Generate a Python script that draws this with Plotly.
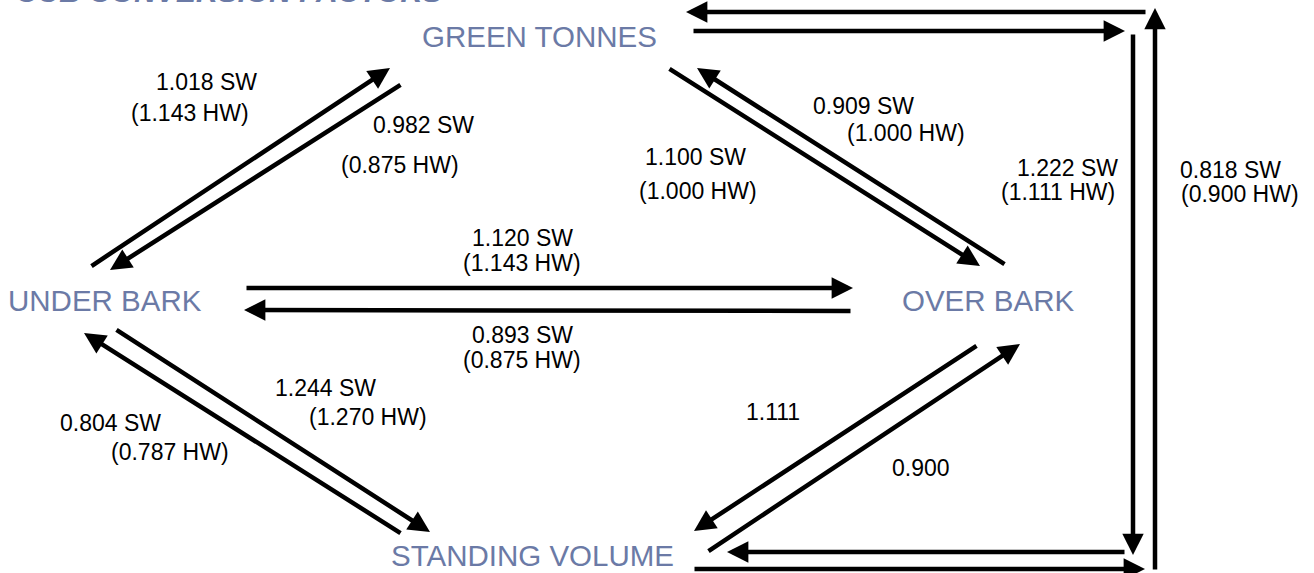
import plotly.graph_objects as go

W, H = 1314, 573

# Diagram nodes
node_names = ["GREEN TONNES", "UNDER BARK", "OVER BARK", "STANDING VOLUME"]
node_x = [539, 105, 988, 532]
node_y = [36, 300, 300, 555]

# Arrows: tail (x0, y0) -> tip (x1, y1)
arrow_x0 = [90, 402, 668, 1006, 245, 852, 115, 402, 978, 707, 692, 1133, 1126, 693, 1155, 1147]
arrow_y0 = [267, 84, 68, 265, 288, 311, 329, 534, 345, 552, 31, 33, 552, 569, 571, 12]
arrow_x1 = [390, 110, 980, 697, 853, 244, 430, 84, 694, 1020, 1125, 1133, 727, 1145, 1155, 686]
arrow_y1 = [68, 270, 266, 68, 288, 310, 532, 333, 531, 344, 31, 555, 552, 569, 8, 12]

# Conversion factor labels
label_text = [
    "1.018 SW", "(1.143 HW)", "0.982 SW", "(0.875 HW)",
    "0.909 SW", "(1.000 HW)", "1.100 SW", "(1.000 HW)",
    "1.120 SW", "(1.143 HW)", "0.893 SW", "(0.875 HW)",
    "1.244 SW", "(1.270 HW)", "0.804 SW", "(0.787 HW)",
    "1.111", "0.900",
    "1.222 SW", "(1.111 HW)", "0.818 SW", "(0.900 HW)",
]
label_x = [206, 190, 423, 400, 863, 906, 695, 698, 522, 522, 522, 522,
           325, 368, 110, 170, 773, 921, 1067, 1058, 1230, 1240]
label_y = [82, 113, 125, 165, 106, 133, 157, 191, 238, 263, 335, 360,
           388, 417, 423, 452, 412, 468, 168, 192, 170, 194]

title_text = "CUB CONVERSION FACTORS"

NODE_COLOR = "#6b7aa6"
FONT = "Liberation Sans, Arial, sans-serif"

fig = go.Figure()
fig.add_trace(go.Scatter(x=[0, W], y=[0, H], mode="markers",
                         marker=dict(opacity=0), hoverinfo="skip", showlegend=False))

annotations = []
for name, x, y in zip(node_names, node_x, node_y):
    annotations.append(dict(x=x, y=y, xref="x", yref="y", text=name, showarrow=False,
                            font=dict(family=FONT, size=29.5, color=NODE_COLOR),
                            xanchor="center", yanchor="middle"))

for x0, y0, x1, y1 in zip(arrow_x0, arrow_y0, arrow_x1, arrow_y1):
    annotations.append(dict(x=x1, y=y1, ax=x0, ay=y0, xref="x", yref="y",
                            axref="x", ayref="y", text="", showarrow=True,
                            arrowhead=2, arrowsize=0.95, arrowwidth=4.5,
                            arrowcolor="black", standoff=0, startstandoff=0))

for t, x, y in zip(label_text, label_x, label_y):
    annotations.append(dict(x=x, y=y, xref="x", yref="y", text=t, showarrow=False,
                            font=dict(family=FONT, size=23, color="black"),
                            xanchor="center", yanchor="middle"))

annotations.append(dict(x=14, y=10, xref="x", yref="y", text="<b><i>" + title_text + "</i></b>",
                        showarrow=False, xanchor="left", yanchor="bottom",
                        font=dict(family=FONT, size=30, color=NODE_COLOR)))

fig.update_layout(
    width=W, height=H,
    margin=dict(l=0, r=0, t=0, b=0),
    paper_bgcolor="white", plot_bgcolor="white",
    xaxis=dict(range=[0, W], visible=False, fixedrange=True),
    yaxis=dict(range=[H, 0], visible=False, fixedrange=True),
    annotations=annotations,
    showlegend=False,
)

fig.write_html("out.html", config={"displayModeBar": False},
               post_script="document.body.style.margin='0';document.body.style.overflow='hidden';")
